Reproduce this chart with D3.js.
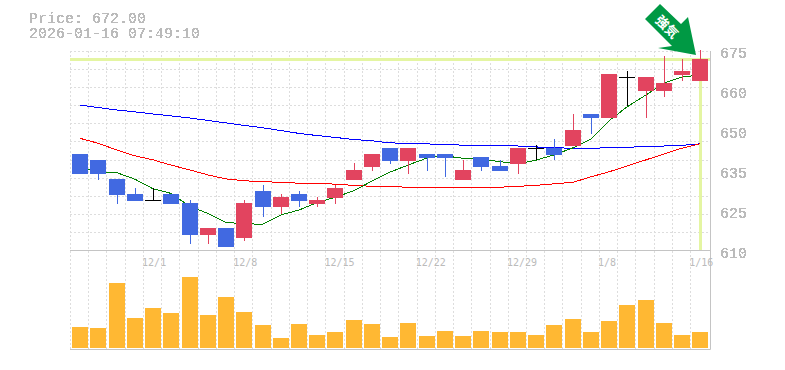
<!DOCTYPE html>
<html lang="en">
<head>
<meta charset="UTF-8">
<script src="https://cdn.jsdelivr.net/npm/d3@7"></script>
<style>
  html, body { margin: 0; padding: 0; background: #fff; }
  svg { display: block; }
  text { font-family: "Liberation Mono", monospace; fill: #bbb; }
</style>
</head>
<body>
<div id="fig"></div>
<script>
const dates = ["11/25","11/26","11/27","11/28","12/1","12/2","12/3","12/4","12/5","12/8","12/9","12/10","12/11","12/12","12/15","12/16","12/17","12/18","12/19","12/22","12/23","12/24","12/25","12/26","12/29","12/30","1/5","1/6","1/7","1/8","1/9","1/13","1/14","1/15","1/16"];
const dateLabels = ["12/1","12/8","12/15","12/22","12/29","1/8","1/16"];
const priceTicks = [675,662,649,636,623,610];

const open  = [641.2,639.3,633.1,628.2,626.3,628.2,625.3,614.9,617.2,613.9,629.2,624,628.2,625,626.9,632.8,637,643.2,638.9,641.2,641.2,632.8,640.2,637.3,638,643.2,643.2,643.8,654.2,652.9,666.2,661.7,661.7,666.9,664.9];
const high  = [641.2,639.3,633.1,630.2,630.2,628.2,626.3,617.2,617.2,626.3,631.1,628.2,629.2,627.2,631.1,638.3,641.2,643.2,643.2,641.2,641.2,639.3,640.2,639.3,643.2,644.1,646.1,654.2,654.2,667.2,668.2,666.2,673,672.1,675];
const low   = [634.7,632.8,625,625.9,626.3,625,612,612,611,612.9,620.7,621.7,624,624,625,632.8,635.7,638,634.7,635.7,633.7,632.8,635.7,635.7,634.7,639.3,639.3,643.8,647.7,652.9,656.8,652.9,659.7,664.9,664.9];
const close = [634.7,634.7,627.9,625.9,626.3,625,614.9,617.2,611,625.3,624,627.2,625.9,626.3,630.2,636,641.2,638.9,643.2,639.9,639.9,636,637,635.7,643.2,643.2,640.9,649,652.9,667.2,666.2,666.2,664.3,668.2,672];

const maShort = [636.7,635.4,635.1,633,629.9,628.4,624.1,621.9,619,618.5,618.4,621.4,623,625.4,627.1,629.3,632.4,635.3,637.6,639.9,640.6,639.8,639.5,638.7,638,639.2,640.9,643.2,646.1,652,656.5,660.4,664.3,666.2,666.9];
const maMid   = [646.3,644.7,642.5,640.6,639.3,637.6,636,634.4,633.1,632.5,632.2,632,631.7,631.7,631.4,631,630.7,630.6,630.4,630.4,630.4,630.4,630.4,630.4,630.7,631,631.5,632,633.8,635.4,637.3,639.3,641.2,643.1,644.5];
const maLong  = [657.1,656.3,655.5,654.9,654.2,653.6,652.9,652.1,651.3,650.5,649.7,648.8,647.9,647.2,646.6,645.9,645.5,644.8,644.7,644.5,644.2,644.1,644.1,644,643.8,643.5,643.2,643.1,643.1,643.2,643.4,643.6,643.8,644,644.5];

const volume = [21,20,65,30,40,35,71,33,51,36,23,10,24,13,16,28,24,11,25,12,17,12,17,16,16,13,23,29,16,27,43,48,25,13,16];

const lastPrice = 672;
const header = ["Price: 672.00","2026-01-16 07:49:10"];

const width = 785, height = 370;
const svg = d3.select("#fig").append("svg").attr("width",width).attr("height",height);

// hard edged text, the original labels are not antialiased
const aliased = svg.append("defs").append("filter").attr("id","aliased")
    .attr("color-interpolation-filters","sRGB")
    .attr("x","-5%").attr("y","-5%").attr("width","110%").attr("height","110%");
aliased.append("feComponentTransfer").append("feFuncA")
    .attr("type","discrete").attr("tableValues","0 1 1");

const x = d3.scaleBand().domain(dates).range([71,709.4]);
const cx = d => Math.round(x(d) + x.bandwidth()/2);
const y = d3.scaleLinear().domain([610,675]).range([250,50]);
const yVol = d3.scaleLinear().domain([0,100]).range([348,248]);
const barW = 16;

const colUp = "#e2445f", colDown = "#4169e1", colGrid = "#ddd", colFrame = "#c4c4c4", colHi = "#e4f5a2";

// grid
const grid = svg.append("g").attr("stroke",colGrid).attr("stroke-dasharray","2,2").attr("fill","none");
grid.selectAll("line.v").data(dates).join("line").attr("class","v")
    .attr("x1",d=>Math.round(x(d))-0.5).attr("x2",d=>Math.round(x(d))-0.5)
    .attr("y1",51).attr("y2",350);
grid.selectAll("line.h").data(d3.range(12)).join("line").attr("class","h")
    .attr("x1",70).attr("x2",710)
    .attr("y1",i=>Math.round(51+i*18.09)+0.5).attr("y2",i=>Math.round(51+i*18.09)+0.5);

// frame
svg.append("path").attr("fill","none").attr("stroke",colFrame)
    .attr("d","M70,250.5H710M70,349.5H710.5V51");

// axes labels
const yAxis = d3.axisRight(y).tickValues(priceTicks).tickSize(0).tickPadding(0)
    .tickFormat(d=>Math.round(d/5)*5);
svg.append("g").attr("transform","translate(720,3)").attr("filter","url(#aliased)").call(yAxis)
    .call(g=>g.select(".domain").remove())
    .call(g=>g.selectAll("text").style("font-size","15px").attr("fill","#bbb"));

const xAxis = d3.axisBottom(x).tickValues(dateLabels).tickSize(0).tickPadding(0);
svg.append("g").attr("transform","translate(0,259)").call(xAxis)
    .call(g=>g.select(".domain").remove())
    .call(g=>g.selectAll("text").attr("text-anchor","start").attr("x",-11)
        .style("font-family","'DejaVu Sans Mono'").style("font-size","10px").attr("fill","#bbb"));

// header
svg.append("g").attr("filter","url(#aliased)").selectAll("text").data(header).join("text")
    .attr("x",29).attr("y",(d,i)=>23+i*15)
    .style("font-size","15px").text(d=>d);

// last price highlight
svg.append("line").attr("x1",70).attr("x2",710).attr("y1",Math.round(y(lastPrice))+0.5).attr("y2",Math.round(y(lastPrice))+0.5)
    .attr("stroke",colHi).attr("stroke-width",3);
svg.append("line").attr("x1",cx(dates[34])+0.5).attr("x2",cx(dates[34])+0.5).attr("y1",y(lastPrice)).attr("y2",250)
    .attr("stroke",colHi).attr("stroke-width",3);

// moving averages
const line = d3.line().x((d,i)=>cx(dates[i])).y(d=>y(d));
[[maLong,"#0000ff"],[maMid,"#ff0000"],[maShort,"#008000"]].forEach(([s,c])=>{
    svg.append("path").attr("d",line(s)).attr("fill","none").attr("stroke",c).attr("stroke-width",1)
        .attr("shape-rendering","crispEdges");
});

// candles
const idx = d3.range(dates.length);
const color = i => close[i]>open[i] ? colUp : close[i]<open[i] ? colDown : "#000";
const candles = svg.append("g").attr("shape-rendering","crispEdges");
candles.selectAll("line").data(idx).join("line")
    .attr("x1",i=>cx(dates[i])+0.5).attr("x2",i=>cx(dates[i])+0.5)
    .attr("y1",i=>y(high[i])).attr("y2",i=>y(low[i]))
    .attr("stroke",color);
candles.selectAll("rect").data(idx).join("rect")
    .attr("x",i=>cx(dates[i])-barW/2).attr("width",barW)
    .attr("y",i=>y(Math.max(open[i],close[i])))
    .attr("height",i=>Math.max(1,Math.abs(y(open[i])-y(close[i]))))
    .attr("fill",color);

// volume
svg.append("g").attr("shape-rendering","crispEdges").selectAll("rect").data(idx).join("rect")
    .attr("x",i=>cx(dates[i])-barW/2).attr("width",barW)
    .attr("y",i=>yVol(volume[i])).attr("height",i=>yVol(0)-yVol(volume[i]))
    .attr("fill","#ffb833");

// arrow
svg.append("polygon").attr("fill","#009944")
    .attr("points","660,4 645,19 672,46 658,48 696,55 688,17 681,24");
svg.append("text").text("強気")
    .attr("transform","translate(667,27) rotate(45)")
    .attr("text-anchor","middle").attr("dy","0.35em")
    .style("font-family","'Noto Sans CJK JP'").style("font-weight","700").style("font-size","13px")
    .style("fill","#fff");
</script>
</body>
</html>
